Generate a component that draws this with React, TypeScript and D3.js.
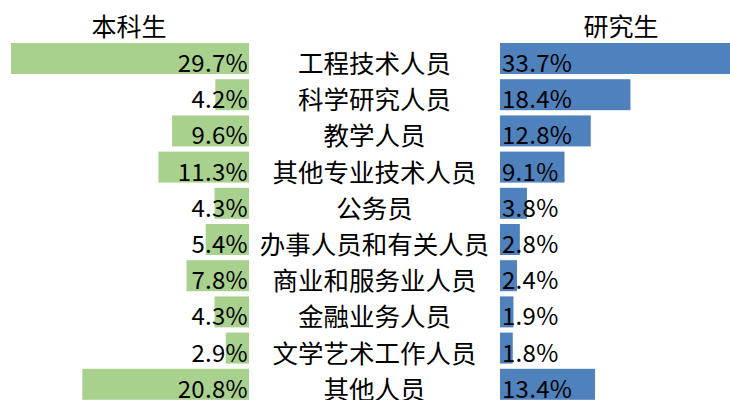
import React from "react";
import * as d3 from "d3";

const categories = [
  "工程技术人员",
  "科学研究人员",
  "教学人员",
  "其他专业技术人员",
  "公务员",
  "办事人员和有关人员",
  "商业和服务业人员",
  "金融业务人员",
  "文学艺术工作人员",
  "其他人员",
];
const undergrad = [29.7, 4.2, 9.6, 11.3, 4.3, 5.4, 7.8, 4.3, 2.9, 20.8];
const graduate = [33.7, 18.4, 12.8, 9.1, 3.8, 2.8, 2.4, 1.9, 1.8, 13.4];
const seriesNames = ["本科生", "研究生"];

const W = 730;
const H = 400;
const FONT = "'Noto Sans CJK SC', 'Noto Sans', sans-serif";

export default function App() {
  const y = d3
    .scaleBand<string>()
    .domain(categories)
    .range([40.4, 402.4])
    .paddingInner(0.144)
    .paddingOuter(0.072);
  const leftEdge = 249;
  const rightEdge = 500;
  const xL = d3.scaleLinear().domain([0, 29.7]).range([leftEdge, 11]);
  const xR = d3.scaleLinear().domain([0, 13.4]).range([rightEdge, 595]);
  const bw = y.bandwidth();
  return (
    <svg
      width={W}
      height={H}
      style={{ position: "absolute", left: 0, top: 0 }}
      fontFamily={FONT}
    >
      <rect width={W} height={H} fill="#fff" />
      <text x={129} y={25} textAnchor="middle" dominantBaseline="central" fontSize={25}>
        {seriesNames[0]}
      </text>
      <text x={621} y={25} textAnchor="middle" dominantBaseline="central" fontSize={25}>
        {seriesNames[1]}
      </text>
      {categories.map((c, i) => {
        const y0 = y(c)!;
        const cy = y0 + bw / 2 + 3;
        return (
          <g key={c}>
            <rect
              x={xL(undergrad[i])}
              y={y0}
              width={leftEdge - xL(undergrad[i])}
              height={bw}
              fill="#A9D18E"
            />
            <rect
              x={rightEdge}
              y={y0}
              width={xR(graduate[i]) - rightEdge}
              height={bw}
              fill="#4F81BD"
            />
            <text x={248} y={cy} textAnchor="end" dominantBaseline="central" fontSize={24} letterSpacing={0.3}>
              {undergrad[i].toFixed(1) + "%"}
            </text>
            <text x={502} y={cy} textAnchor="start" dominantBaseline="central" fontSize={24} letterSpacing={0.3}>
              {graduate[i].toFixed(1) + "%"}
            </text>
            <text x={374.5} y={cy} textAnchor="middle" dominantBaseline="central" fontSize={25.5}>
              {c}
            </text>
          </g>
        );
      })}
    </svg>
  );
}
